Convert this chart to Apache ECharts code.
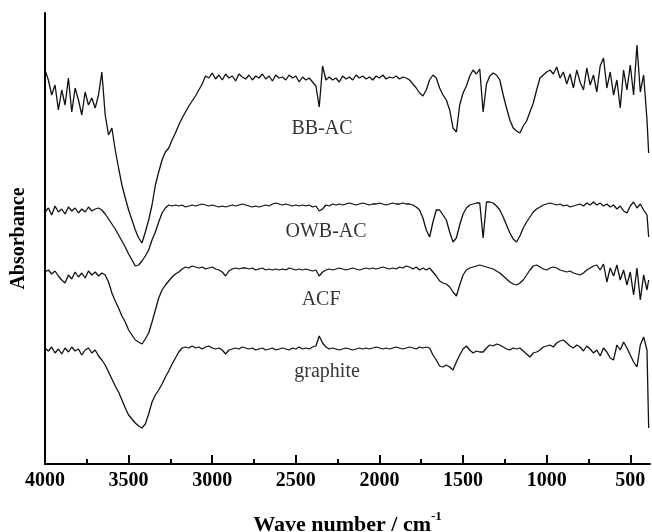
<!DOCTYPE html>
<html>
<head>
<meta charset="utf-8">
<script src="https://cdn.jsdelivr.net/npm/echarts@6/dist/echarts.min.js"></script>
<style>
  html, body { margin: 0; padding: 0; background: #fff; }
  #chart { width: 652px; height: 532px; }
</style>
</head>
<body>
<div id="chart"></div>
<script>
// wave numbers (cm-1), read every 20 cm-1
const waveNumbers = [
  4000,3980,3960,3940,3920,3900,3880,3860,3840,3820,
  3800,3780,3760,3740,3720,3700,3680,3660,3640,3620,
  3600,3580,3560,3540,3520,3500,3480,3460,3440,3420,
  3400,3380,3360,3340,3320,3300,3280,3260,3240,3220,
  3200,3180,3160,3140,3120,3100,3080,3060,3040,3020,
  3000,2980,2960,2940,2920,2900,2880,2860,2840,2820,
  2800,2780,2760,2740,2720,2700,2680,2660,2640,2620,
  2600,2580,2560,2540,2520,2500,2480,2460,2440,2420,
  2400,2380,2360,2340,2320,2300,2280,2260,2240,2220,
  2200,2180,2160,2140,2120,2100,2080,2060,2040,2020,
  2000,1980,1960,1940,1920,1900,1880,1860,1840,1820,
  1800,1780,1760,1740,1720,1700,1680,1660,1640,1620,
  1600,1580,1560,1540,1520,1500,1480,1460,1440,1420,
  1400,1380,1360,1340,1320,1300,1280,1260,1240,1220,
  1200,1180,1160,1140,1120,1100,1080,1060,1040,1020,
  1000,980,960,940,920,900,880,860,840,820,
  800,780,760,740,720,700,680,660,640,620,
  600,580,560,540,520,500,480,460,440,420,
  400,390
]

// absorbance, arbitrary offset units
const bbAC = [
  394,384,369,379,354,374,359,386,352,376,
  364,349,372,359,366,356,369,392,349,329,
  336,314,296,279,266,254,244,234,226,221,
  232,244,259,279,292,304,312,316,324,331,
  339,346,352,358,363,368,374,380,388,386,
  391,385,389,384,390,386,388,383,390,387,
  385,389,384,388,386,390,385,388,383,389,
  386,387,384,389,386,388,382,387,384,386,
  382,378,357,398,384,387,384,386,382,388,
  385,387,384,389,386,388,385,387,384,388,
  386,389,385,387,386,388,385,387,386,384,
  380,376,371,368,374,384,389,386,376,369,
  364,354,336,332,359,371,378,388,394,390,
  395,352,380,388,391,389,384,369,356,344,
  336,333,331,338,343,352,361,374,386,389,
  392,394,390,397,386,392,380,390,376,394,
  382,374,396,379,389,372,398,406,376,392,
  369,384,356,394,374,399,369,419,372,389,
  344,311
]

const owbAC = [
  252,256,249,258,252,255,250,257,253,256,
  251,255,252,257,253,255,256,254,250,245,
  240,235,229,223,217,210,204,198,199,203,
  208,214,224,232,242,251,256,259,258,259,
  258,259,257,258,259,258,259,260,259,258,
  259,258,257,258,257,258,259,258,259,260,
  259,258,257,258,257,258,259,258,260,261,
  260,259,260,259,258,259,258,259,258,259,
  257,258,253,255,259,258,260,259,260,259,
  260,261,260,259,260,261,260,259,260,260,
  261,260,259,260,261,260,260,261,260,260,
  259,257,254,246,234,227,242,254,254,249,
  244,232,222,226,239,250,256,259,260,261,
  261,226,262,262,261,258,254,247,239,231,
  225,222,228,236,242,247,252,255,257,259,
  260,261,260,259,260,258,259,257,258,259,
  260,258,261,259,262,259,261,258,260,257,
  259,255,258,253,251,258,262,256,260,254,
  249,227
]

const acf = [
  192,194,190,193,188,184,181,189,185,192,
  187,191,186,193,189,192,188,191,189,182,
  171,163,156,148,142,134,129,124,122,120,
  125,131,142,154,166,174,179,183,187,190,
  192,195,197,196,198,197,196,197,195,196,
  197,195,194,192,188,193,195,196,195,196,
  196,195,196,194,195,196,194,195,194,195,
  194,195,194,196,195,194,195,194,195,194,
  193,194,188,192,194,195,194,195,196,195,
  194,195,196,195,194,195,196,195,196,195,
  196,197,196,195,196,195,197,196,198,197,
  195,197,194,196,194,196,192,188,183,181,
  180,177,172,168,179,189,194,196,197,198,
  199,198,197,196,195,193,191,188,185,182,
  180,179,181,184,189,194,198,199,197,195,
  194,196,197,196,194,193,192,193,191,190,
  189,191,194,196,198,199,194,200,182,196,
  188,199,184,194,179,192,169,196,164,189,
  174,184
]

const graphite = [
  116,113,117,111,115,110,116,112,117,113,
  115,109,114,116,111,114,108,104,99,92,
  85,78,72,64,56,49,45,41,38,36,
  40,50,62,69,74,80,87,93,100,106,
  112,116,117,116,118,116,117,115,117,118,
  116,115,116,114,110,114,115,116,115,117,
  116,115,116,114,115,116,114,115,116,114,
  115,116,115,114,116,115,117,115,116,115,
  117,118,128,121,117,115,116,115,114,115,
  116,115,114,115,116,115,116,115,116,117,
  116,115,116,115,116,117,116,115,116,117,
  116,115,117,116,117,116,109,104,98,97,
  99,97,94,102,109,115,118,114,111,113,
  112,112,116,119,118,120,119,117,115,114,
  116,115,116,113,110,107,111,112,114,117,
  118,119,117,121,123,124,121,118,116,119,
  117,113,118,115,111,114,108,116,112,106,
  104,119,114,122,116,109,102,97,119,127,
  114,36
]

const majorTicks = [4000, 3500, 3000, 2500, 2000, 1500, 1000, 500]
const minorTicks = [3750, 3250, 2750, 2250, 1750, 1250, 750]

// curve labels
const labelNames = ['BB-AC', 'OWB-AC', 'ACF', 'graphite']
const labelX = [2343, 2319, 2349, 2313]
const labelY = [335, 232, 164, 92]

const serif = "'Liberation Serif', 'Times New Roman', serif"

const toPairs = (vals) => waveNumbers.map((w, i) => [w, vals[i]])

const chart = echarts.init(document.getElementById('chart'))

const lineSeries = (name, vals) => ({
  name: name,
  type: 'line',
  data: toPairs(vals),
  showSymbol: false,
  symbol: 'none',
  lineStyle: { color: '#111', width: 1.3 },
  xAxisIndex: 0
})

let option = {
  animation: false,
  grid: {
    left: 45,
    right: 2,
    top: 13,
    bottom: 68,
    outerBoundsMode: 'none'
  },
  xAxis: [
    {
      type: 'value',
      inverse: true,
      min: 382,
      max: 4000,
      name: '{t|Wave number / cm}{s|-1}',
      nameLocation: 'middle',
      nameGap: 46,
      nameTextStyle: {
        rich: {
          t: { fontFamily: serif, fontSize: 22, fontWeight: 'bold', color: '#000', lineHeight: 26, verticalAlign: 'bottom' },
          s: { fontFamily: serif, fontSize: 13, fontWeight: 'bold', color: '#000', lineHeight: 13, verticalAlign: 'top' }
        }
      },
      axisLine: { show: true, lineStyle: { color: '#000', width: 2 } },
      axisTick: {
        show: true,
        inside: true,
        length: 9,
        lineStyle: { color: '#000', width: 2 },
        customValues: majorTicks
      },
      axisLabel: {
        customValues: majorTicks,
        formatter: (v) => String(v),
        fontFamily: serif,
        fontSize: 20,
        fontWeight: 'bold',
        color: '#000',
        margin: 7
      },
      splitLine: { show: false }
    },
    {
      type: 'value',
      inverse: true,
      min: 382,
      max: 4000,
      position: 'bottom',
      axisLine: { show: false },
      axisTick: {
        show: true,
        inside: true,
        length: 5,
        lineStyle: { color: '#000', width: 2 },
        customValues: minorTicks
      },
      axisLabel: { show: false },
      splitLine: { show: false }
    }
  ],
  yAxis: {
    type: 'value',
    min: 0,
    max: 451,
    name: 'Absorbance',
    nameLocation: 'middle',
    nameGap: 16,
    nameTextStyle: {
      fontFamily: serif,
      fontSize: 20,
      fontWeight: 'bold',
      color: '#000'
    },
    axisLine: { show: true, lineStyle: { color: '#000', width: 2 } },
    axisTick: { show: false },
    axisLabel: { show: false },
    splitLine: { show: false }
  },
  series: [
    lineSeries('BB-AC', bbAC),
    lineSeries('OWB-AC', owbAC),
    lineSeries('ACF', acf),
    lineSeries('graphite', graphite),
    {
      type: 'scatter',
      symbolSize: 0,
      data: labelNames.map((n, i) => [labelX[i], labelY[i], n]),
      label: {
        show: true,
        position: 'inside',
        formatter: (p) => p.data[2],
        fontFamily: serif,
        fontSize: 20,
        color: '#000'
      },
      silent: true
    }
  ]
}

chart.setOption(option)
</script>
</body>
</html>
